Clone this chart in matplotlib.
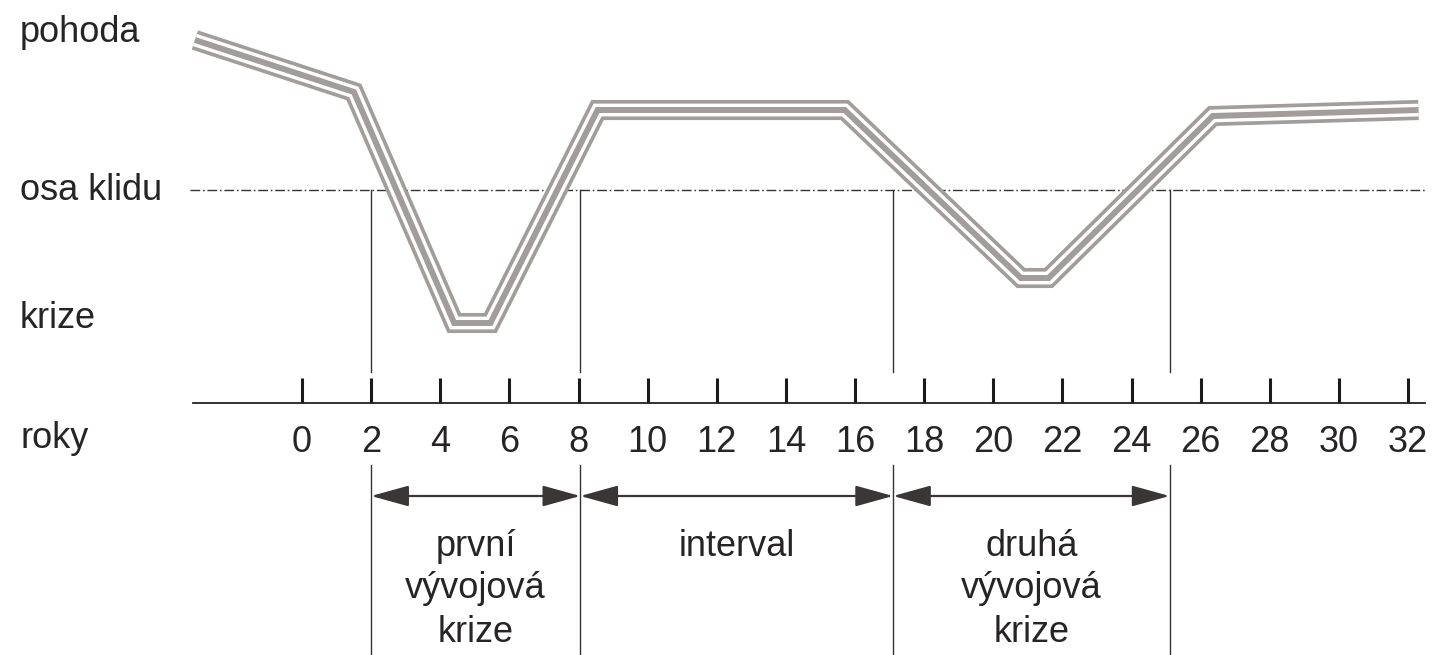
import matplotlib
matplotlib.use("Agg")
import matplotlib.pyplot as plt
from matplotlib.patches import FancyArrowPatch

# ---- data ----
years_curve = [-3.1, 1.5, 4.4, 5.45, 8.55, 15.7, 20.8, 21.6, 26.35, 32.3]
state_curve = [1.50, 0.98, -1.33, -1.33, 0.80, 0.80, -0.88, -0.88, 0.74, 0.80]
tick_years = list(range(0, 33, 2))
tick_labels = [str(t) for t in tick_years]
boundaries = [2.0, 8.05, 17.1, 25.1]
phase_labels = [["první", "vývojová", "krize"], ["interval"], ["druhá", "vývojová", "krize"]]
level_labels = ["pohoda", "osa klidu", "krize", "roky"]
level_values = [1.58, 0.0, -1.28, -2.48]
rest_level = 0.0
axis_level = -2.13

plt.rcParams['font.family'] = ['Liberation Sans', 'DejaVu Sans']
TXT = "#262424"
FS = 26
BAND = "#a29c9a"

fig = plt.figure(figsize=(14.35, 6.55), dpi=100)
ax = fig.add_axes([0, 0, 1, 1])
ax.set_xlim(-8.74, 32.78)
ax.set_ylim(-4.65, 1.90)
for s in ["top", "left", "right"]:
    ax.spines[s].set_visible(False)
ax.spines["bottom"].set_position(("data", axis_level))
ax.spines["bottom"].set_bounds(-3.15, 32.5)
ax.spines["bottom"].set_linewidth(1.3)
ax.spines["bottom"].set_color("#222222")
ax.set_yticks([])
ax.set_xticks(tick_years)
ax.set_xticklabels(tick_labels)
ax.tick_params(axis="x", direction="in", length=18, width=2.2, color="#1a1a1a",
               pad=16, labelsize=FS, labelcolor=TXT)

# rest line
ax.plot([-3.25, 32.5], [rest_level, rest_level], color="#333333", lw=1.0,
        dashes=[7, 2, 1.2, 2])

# triple band curve
ax.plot(years_curve, state_curve, color=BAND, lw=14.5, solid_joinstyle="miter",
        solid_capstyle="butt", zorder=3)
ax.plot(years_curve, state_curve, color="white", lw=9.2, solid_joinstyle="miter",
        solid_capstyle="butt", zorder=4)
ax.plot(years_curve, state_curve, color=BAND, lw=4.3, solid_joinstyle="miter",
        solid_capstyle="butt", zorder=5)

# vertical boundary lines
for b in boundaries:
    ax.plot([b, b], [rest_level, -1.82], color="#333333", lw=1.0)
    ax.plot([b, b], [-2.75, -4.65], color="#333333", lw=1.0)

# arrows
for a, b in zip(boundaries[:-1], boundaries[1:]):
    arr = FancyArrowPatch((a, -3.06), (b, -3.06),
                          arrowstyle="<|-|>,head_length=1.3,head_width=0.36",
                          mutation_scale=18, color="#3b3636", lw=1.6,
                          shrinkA=0, shrinkB=0)
    ax.add_patch(arr)

# phase labels
line_ys = [-3.56, -3.99, -4.43]
for a, b, lines in zip(boundaries[:-1], boundaries[1:], phase_labels):
    for ln, yy in zip(lines, line_ys):
        ax.text((a + b) / 2, yy, ln, ha="center", va="center", fontsize=FS, color=TXT)

# level labels on the left
for lab, yy in zip(level_labels, level_values):
    ax.text(-8.16, yy, lab, ha="left", va="center", fontsize=FS, color=TXT)

fig.savefig("out.png", dpi=100)
